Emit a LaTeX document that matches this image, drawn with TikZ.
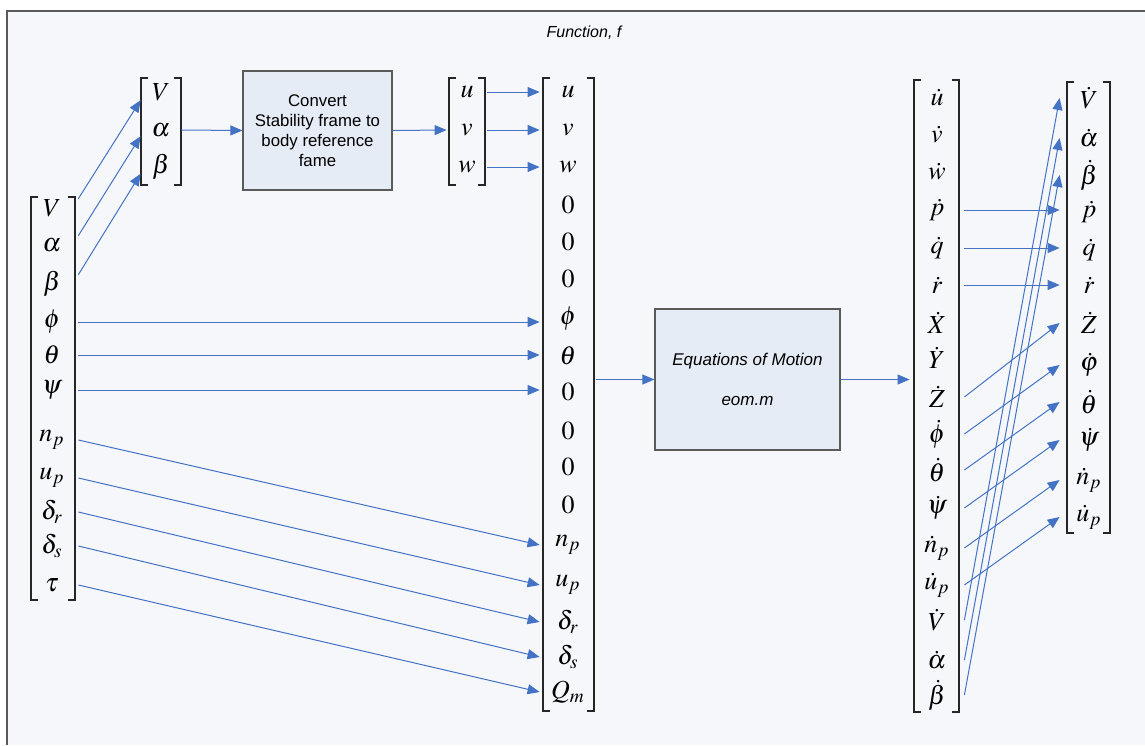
\documentclass[tikz,border=0pt]{standalone}
\usepackage{mathptmx}
\usepackage{fontspec}
\setsansfont{Liberation Sans}
\usetikzlibrary{arrows.meta}

\definecolor{arrowblue}{HTML}{4472C4}
\definecolor{boxfill}{HTML}{E6ECF6}
\definecolor{pagefill}{HTML}{F5F7FB}
\definecolor{framegray}{HTML}{5A5A5A}

\begin{document}
\begin{tikzpicture}[x=0.5pt, y=-0.5pt, >={Triangle[length=6pt,width=5pt]},
    entry/.style={inner sep=0pt, minimum height=15pt, font=\fontsize{13}{15}\selectfont},
    block/.style={draw=framegray, fill=boxfill, line width=0.6pt, align=center},
    bracket/.style={line width=0.6pt, black!85},
    link/.style={->, arrowblue, line width=0.5pt}]
    \useasboundingbox (0,0) rectangle (1145,745);

    % Draw outer frame of the function
    \fill[pagefill] (7,11) rectangle (1145,745);
    \draw[framegray, line width=0.7pt] (7,745) -- (7,11) -- (1145,11);
    \node[font=\sffamily\itshape\fontsize{8}{10}\selectfont] (title) at (584,33) {Function, f};

    % Draw input state vector
    \foreach \i/\t/\y in {1/V/208, 2/\alpha/245, 3/\beta/284, 4/\phi/322, 5/\theta/355,
        6/\psi/390, 7/n_p/440, 8/u_p/478, 9/\delta_r/512, 10/\delta_s/546, 11/\tau/585}
        \node[entry, minimum width=26pt] (in\i) at (52,\y) {$\t$};
    \draw[bracket] (38,197) -- (31,197) -- (31,600) -- (38,600);
    \draw[bracket] (68,197) -- (75,197) -- (75,600) -- (68,600);

    % Draw stability frame vector
    \foreach \i/\t/\y in {1/V/92, 2/\alpha/130, 3/\beta/167}
        \node[entry, minimum width=20pt] (s\i) at (161,\y) {$\t$};
    \draw[bracket] (148,78) -- (141,78) -- (141,185) -- (148,185);
    \draw[bracket] (174,78) -- (181,78) -- (181,185) -- (174,185);

    % Draw conversion block
    \node[block, minimum width=74.5pt, minimum height=59.5pt,
        font=\sffamily\fontsize{8.4}{10}\selectfont] (conv) at (317.5,130.5)
        {Convert\\Stability frame to\\body reference\\fame};

    % Draw body velocity vector
    \foreach \i/\t/\y in {1/u/92, 2/v/130, 3/w/167}
        \node[entry, minimum width=20pt] (b\i) at (467,\y) {$\t$};
    \draw[bracket] (456,78) -- (449,78) -- (449,185) -- (456,185);
    \draw[bracket] (478,78) -- (485,78) -- (485,185) -- (478,185);

    % Draw full state vector
    \foreach \i/\t/\y in {1/u/92, 2/v/130, 3/w/167, 4/0/205, 5/0/242, 6/0/279,
        7/\phi/319, 8/\theta/356, 9/0/392, 10/0/431, 11/0/467, 12/0/505,
        13/n_p/545, 14/u_p/585, 15/\delta_r/622, 16/\delta_s/657, 17/Q_m/692}
        \node[entry, minimum width=28pt] (x\i) at (568,\y) {$\t$};
    \draw[bracket] (550,78) -- (543,78) -- (543,711) -- (550,711);
    \draw[bracket] (587,78) -- (594,78) -- (594,711) -- (587,711);

    % Draw equations of motion block
    \node[block, minimum width=92.5pt, minimum height=70.5pt,
        font=\sffamily\itshape\fontsize{8.5}{10}\selectfont] (eom) at (747.5,379.5)
        {Equations of Motion\\[10pt]eom.m};

    % Draw state derivative vector
    \foreach \i/\t/\y in {1/\dot{u}/97, 2/\dot{v}/135, 3/\dot{w}/172, 4/\dot{p}/210,
        5/\dot{q}/248, 6/\dot{r}/285, 7/\dot{X}/323, 8/\dot{Y}/358, 9/\dot{Z}/397,
        10/\dot{\phi}/434, 11/\dot{\theta}/470, 12/\dot{\psi}/508, 13/\dot{n}_p/548,
        14/\dot{u}_p/585, 15/\dot{V}/620, 16/\dot{\alpha}/660, 17/\dot{\beta}/695}
        \node[entry, minimum width=27pt] (d\i) at (937,\y) {$\t$};
    \draw[bracket] (921,80) -- (914,80) -- (914,712) -- (921,712);
    \draw[bracket] (952,80) -- (959,80) -- (959,712) -- (952,712);

    % Draw output vector
    \foreach \i/\t/\y in {1/\dot{V}/98, 2/\dot{\alpha}/138, 3/\dot{\beta}/175, 4/\dot{p}/212,
        5/\dot{q}/250, 6/\dot{r}/285, 7/\dot{Z}/323, 8/\dot{\varphi}/365,
        9/\dot{\theta}/402, 10/\dot{\psi}/440, 11/\dot{n}_p/480, 12/\dot{u}_p/517}
        \node[entry, minimum width=29pt] (o\i) at (1089,\y) {$\t$};
    \draw[bracket] (1074,82) -- (1067,82) -- (1067,533) -- (1074,533);
    \draw[bracket] (1103,82) -- (1110,82) -- (1110,533) -- (1103,533);

    % Draw connectors into conversion
    \foreach \i in {1,2,3}
        \draw[link] ([yshift=-3pt]in\i.north east) -- (s\i.base west);
    \draw[link] (s2.east) -- (conv.west);
    \draw[link] (conv.east) -- (b2.west);
    \foreach \i in {1,2,3}
        \draw[link] (b\i.east) -- (b\i.east -| x\i.west);

    % Draw connectors from inputs to full state
    \draw[link] (in4.east) -- (in4.east -| x7.west);
    \draw[link] (in5.east) -- (in5.east -| x8.west);
    \draw[link] (in6.east) -- (in6.east -| x9.west);
    \draw[link] (in7.east) -- (x13.west);
    \draw[link] (in8.east) -- (x14.west);
    \draw[link] (in9.east) -- (x15.west);
    \draw[link] (in10.east) -- (x16.west);
    \draw[link] (in11.east) -- (x17.west);

    % Draw connectors through equations of motion
    \draw[link] (eom.west -| x9.east) -- (eom.west);
    \draw[link] (eom.east) -- (eom.east -| d9.west);

    % Draw connectors to outputs
    \draw[link] (d4.east) -- (d4.east -| o4.west);
    \draw[link] (d5.east) -- (d5.east -| o5.west);
    \draw[link] (d6.east) -- (d6.east -| o6.west);
    \draw[link] (d9.east) -- (o7.west);
    \draw[link] (d10.east) -- (o8.west);
    \draw[link] (d11.east) -- (o9.west);
    \draw[link] (d12.east) -- (o10.west);
    \draw[link] (d13.east) -- (o11.west);
    \draw[link] (d14.east) -- (o12.west);
    \draw[link] (d15.east) -- (o1.west);
    \draw[link] (d16.east) -- (o2.west);
    \draw[link] (d17.east) -- (o3.west);
\end{tikzpicture}
\end{document}
